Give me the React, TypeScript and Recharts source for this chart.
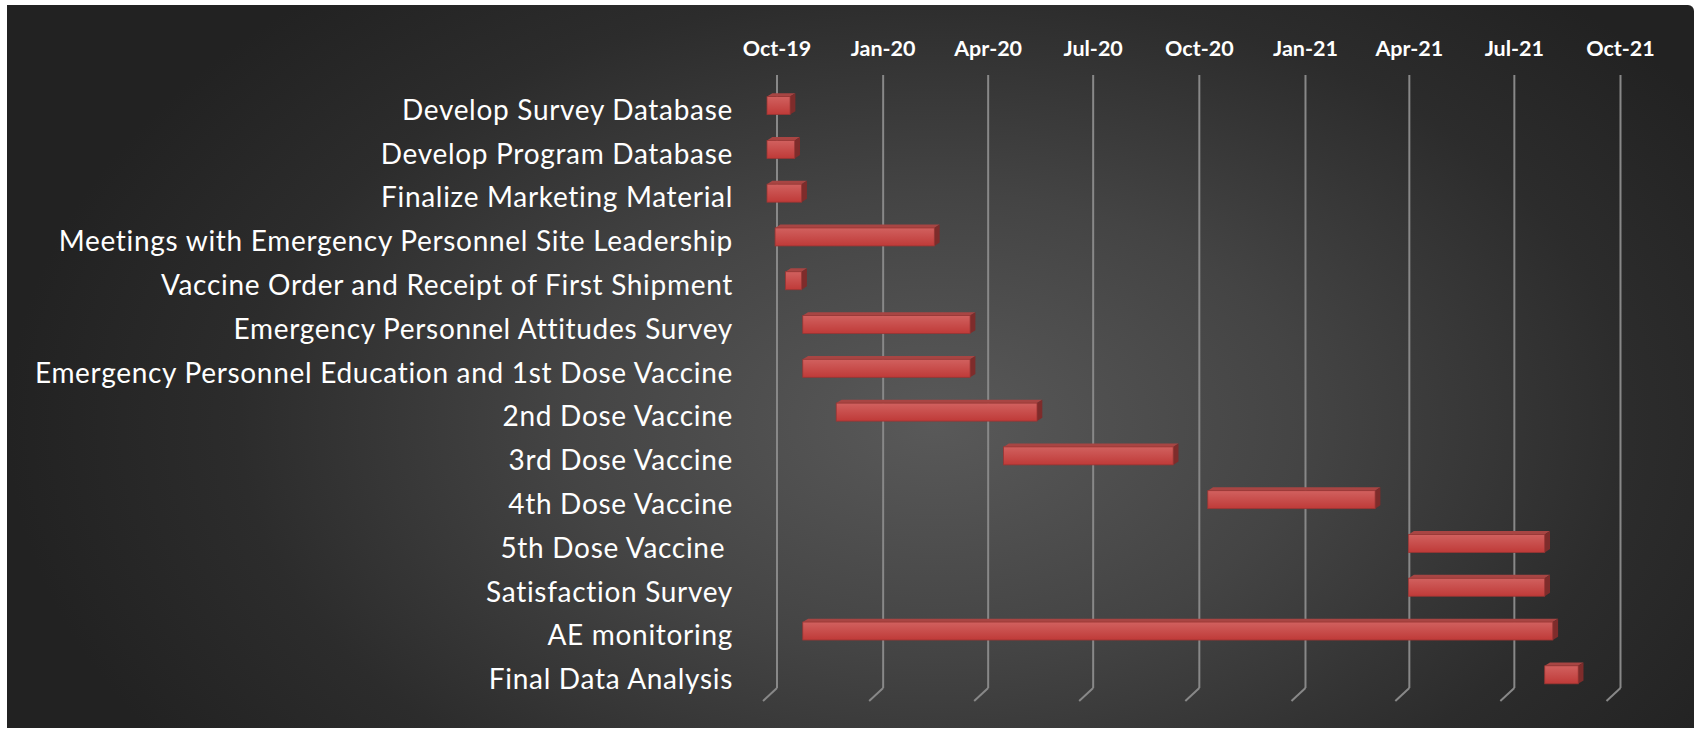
import { Bar, BarChart, CartesianGrid, XAxis, YAxis } from "recharts";

const tasks = [
  "Develop Survey Database",
  "Develop Program Database",
  "Finalize Marketing Material",
  "Meetings with Emergency Personnel Site Leadership",
  "Vaccine Order and Receipt of First Shipment",
  "Emergency Personnel Attitudes Survey",
  "Emergency Personnel Education and 1st Dose Vaccine",
  "2nd Dose Vaccine",
  "3rd Dose Vaccine",
  "4th Dose Vaccine",
  "5th Dose Vaccine ",
  "Satisfaction Survey",
  "AE monitoring",
  "Final Data Analysis",
];

const startDates = [
  "2019-10-01", "2019-10-01", "2019-10-01", "2019-10-08", "2019-10-17",
  "2019-11-01", "2019-11-01", "2019-11-30", "2020-04-23", "2020-10-17",
  "2021-04-09", "2021-04-09", "2019-11-01", "2021-08-05",
];

const endDates = [
  "2019-10-21", "2019-10-25", "2019-10-31", "2020-02-23", "2019-10-31",
  "2020-03-25", "2020-03-25", "2020-05-22", "2020-09-17", "2021-03-11",
  "2021-08-05", "2021-08-05", "2021-08-12", "2021-09-03",
];

const tickDates = [
  "2019-10-01", "2020-01-01", "2020-04-01", "2020-07-01", "2020-10-01",
  "2021-01-01", "2021-04-01", "2021-07-01", "2021-10-01",
];

const tickLabels = [
  "Oct-19", "Jan-20", "Apr-20", "Jul-20", "Oct-20",
  "Jan-21", "Apr-21", "Jul-21", "Oct-21",
];

const toTime = (d: string) => Date.parse(d + "T00:00:00Z");

const ticks = tickDates.map(toTime);
const data = tasks.map((task, i) => ({
  task,
  range: [toTime(startDates[i]), toTime(endDates[i])],
}));

const W = 1696;
const H = 730;
const TOP_AXIS = 75;
const FLOOR_AXIS = 42;
const PLOT_BOTTOM = H - FLOOR_AXIS;
const LABEL_RIGHT = 733;

// 3d look: front face pushed towards the viewer, depth goes up/right
const FRONT_DX = -10;
const FRONT_DY = 8.6;
const DEPTH_X = 5.3;
const DEPTH_Y = 3.4;

function Bar3D(props: any) {
  const { x, y, width, height } = props;
  if (width == null || width <= 0) return null;
  const fx = x + FRONT_DX;
  const fy = y + FRONT_DY;
  const w = width;
  const h = height;
  return (
    <g>
      <polygon
        points={`${fx},${fy} ${fx + DEPTH_X},${fy - DEPTH_Y} ${fx + w + DEPTH_X},${fy - DEPTH_Y} ${fx + w},${fy}`}
        fill="#a84543"
      />
      <polygon
        points={`${fx + w},${fy} ${fx + w + DEPTH_X},${fy - DEPTH_Y} ${fx + w + DEPTH_X},${fy + h - DEPTH_Y} ${fx + w},${fy + h}`}
        fill="#7e2c2b"
      />
      <rect x={fx} y={fy} width={w} height={h} fill="url(#barFront)" stroke="#9a3533" strokeWidth={0.8} />
    </g>
  );
}

function TaskTick(props: any) {
  const { y, payload } = props;
  return (
    <text
      x={LABEL_RIGHT}
      y={y + 12}
      textAnchor="end"
      dominantBaseline="central"
      fill="#ffffff"
      fontSize={28}
      letterSpacing={0.7}
      fontFamily="Lato"
      style={{ whiteSpace: "pre" }}
    >
      {payload.value}
    </text>
  );
}

function DateTick(props: any) {
  const { x, payload } = props;
  const idx = ticks.indexOf(payload.value);
  return (
    <text
      x={x}
      y={56}
      textAnchor="middle"
      fill="#ffffff"
      fontSize={21.5}
      fontWeight="bold"
      fontFamily="Lato"
    >
      {tickLabels[idx]}
    </text>
  );
}

function FloorTick(props: any) {
  const { x } = props;
  return (
    <line x1={x} y1={PLOT_BOTTOM} x2={x - 14} y2={PLOT_BOTTOM + 13} stroke="#888888" strokeWidth={2} />
  );
}

export default function App() {
  return (
    <div style={{ position: "absolute", left: 0, top: 0, width: W, height: H, background: "#ffffff" }}>
      <div
        style={{
          position: "absolute",
          left: 7,
          top: 5,
          width: W - 9,
          height: H - 7,
          borderTopRightRadius: 6,
          background:
            "radial-gradient(ellipse 55% 80% at 55% 58%, #595959 0%, #444444 40%, #2c2c2c 75%, #222222 100%)",
        }}
      />
      <div style={{ position: "absolute", left: 0, top: 0 }}>
        <BarChart
          width={W}
          height={H}
          data={data}
          layout="vertical"
          barSize={18}
          margin={{ top: 0, right: 75.5, bottom: 0, left: 0 }}
        >
          <defs>
            <linearGradient id="barFront" x1="0" y1="0" x2="0" y2="1">
              <stop offset="0%" stopColor="#d1615f" />
              <stop offset="100%" stopColor="#bf3a38" />
            </linearGradient>
          </defs>
          <CartesianGrid xAxisId="top" horizontal={false} stroke="#888888" strokeWidth={2} />
          <XAxis
            xAxisId="top"
            orientation="top"
            type="number"
            domain={[ticks[0], ticks[ticks.length - 1]]}
            ticks={ticks}
            height={TOP_AXIS}
            tickLine={false}
            axisLine={false}
            tick={<DateTick />}
            interval={0}
          />
          <XAxis
            xAxisId="floor"
            orientation="bottom"
            type="number"
            domain={[ticks[0], ticks[ticks.length - 1]]}
            ticks={ticks}
            height={FLOOR_AXIS}
            tickLine={false}
            axisLine={false}
            tick={<FloorTick />}
            interval={0}
            allowDataOverflow
          />
          <YAxis
            type="category"
            dataKey="task"
            width={777}
            tickLine={false}
            axisLine={false}
            tick={<TaskTick />}
            interval={0}
          />
          <Bar xAxisId="top" dataKey="range" shape={<Bar3D />} isAnimationActive={false} />
        </BarChart>
      </div>
    </div>
  );
}
